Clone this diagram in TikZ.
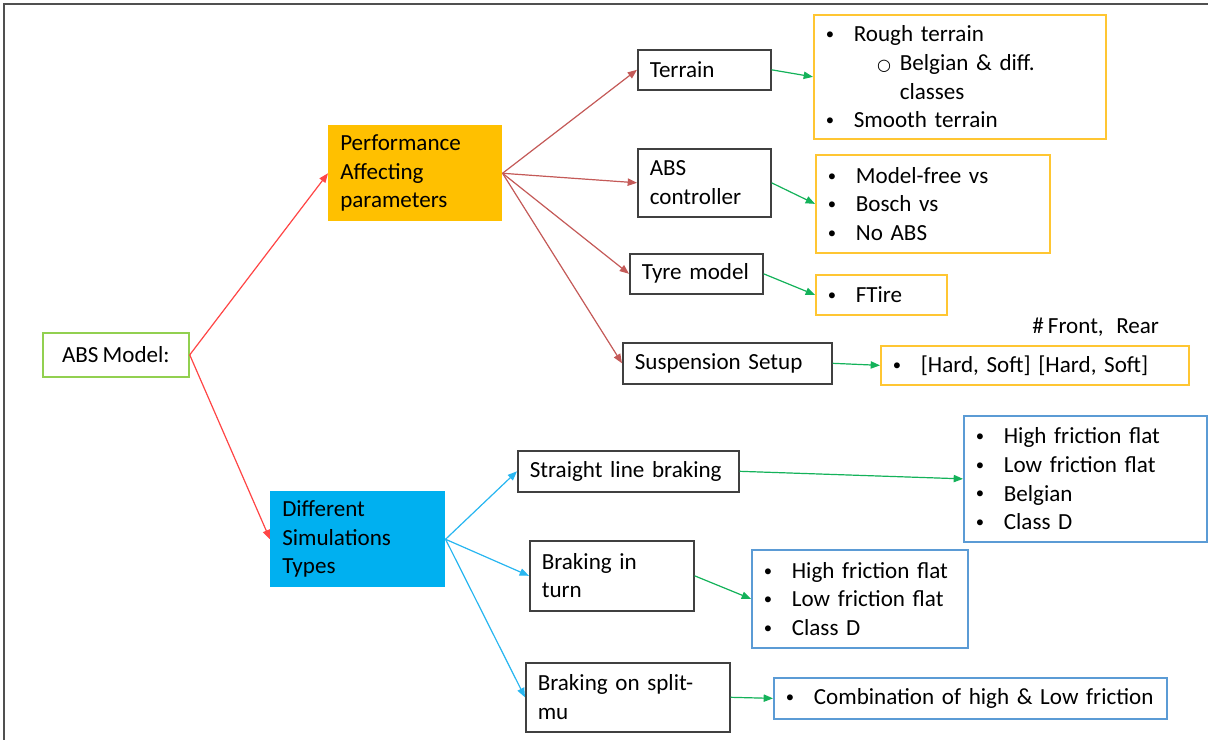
\documentclass[tikz,border=0pt]{standalone}
\usepackage{fontspec}
\setmainfont{Carlito}[WordSpace=0.8]
\newfontfamily\symfont{DejaVu Sans}
\usetikzlibrary{arrows.meta}

\definecolor{boxline}{RGB}{64,64,64}
\definecolor{ylw}{RGB}{255,198,50}
\definecolor{blu}{RGB}{91,155,213}
\definecolor{grn}{RGB}{146,208,80}
\definecolor{orng}{RGB}{255,192,0}
\definecolor{cyn}{RGB}{0,176,240}
\definecolor{redA}{RGB}{255,70,70}
\definecolor{redB}{RGB}{196,90,88}
\definecolor{bluA}{RGB}{40,182,240}
\definecolor{grnA}{RGB}{20,178,90}
\definecolor{framec}{RGB}{80,80,80}

% bullet item, text starts after a fixed indent
\newcommand\bitem[1]{\makebox[22pt][l]{\hspace*{1pt}\raisebox{1.6pt}{\fontsize{12.5}{12.5}\selectfont\textbullet}}#1}
% second-level item marker
\newcommand\subitemmark{\makebox[17pt][l]{\raisebox{0.3pt}{\symfont\fontsize{12}{12}\selectfont ○}}}

\begin{document}
\begin{tikzpicture}[x=0.75pt,y=-0.75pt,
  every node/.style={font=\fontsize{17.3}{21.4}\selectfont, inner ysep=0pt},
  base/.style={anchor=north west, align=left},
  plainbox/.style={base, inner xsep=9pt, draw=boxline, line width=1.2pt},
  fillbox/.style={base, inner xsep=9pt, fill=#1},
  ylist/.style={base, inner xsep=8pt, draw=ylw, line width=1.3pt},
  blist/.style={base, inner xsep=8pt, draw=blu, line width=1.3pt},
  tip/.style={-{Triangle[length=7pt,width=5.5pt]}},
  linkA/.style={tip, line width=0.9pt, draw=redA, fill=redA},
  linkB/.style={tip, line width=0.9pt, draw=redB, fill=redB},
  linkC/.style={tip, line width=0.9pt, draw=bluA, fill=bluA},
  linkD/.style={tip, line width=0.9pt, draw=grnA, fill=grnA},
]
\useasboundingbox (0,0) rectangle (1208,740);

% frame
\draw[line width=1.5pt, framec] (1208,4) -- (4,4) -- (4,740);

% root
\node[anchor=north west, draw=grn, line width=1.3pt, minimum width=109.5pt, minimum height=33pt] (abs) at (42,332) {ABS Model:};

% second level
\node[fillbox=orng, minimum width=130.5pt, minimum height=72pt, text width=112.5pt] (perf) at (328,125) {Performance\\Affecting\\parameters};
\node[fillbox=cyn, minimum width=131.25pt, minimum height=72pt, text width=113.25pt] (diff) at (270,491) {Different\\Simulations\\Types};

% parameters
\node[plainbox, minimum width=99.75pt, minimum height=30pt, text width=81.75pt] (terrain) at (637,49) {Terrain};
\node[plainbox, minimum width=99.75pt, minimum height=51pt, text width=81.75pt] (absc) at (637,148) {ABS\\controller};
\node[plainbox, minimum width=99.75pt, minimum height=30pt, text width=81.75pt] (tyre) at (629,253) {Tyre model};
\node[plainbox, minimum width=156.75pt, minimum height=30.75pt, text width=138.75pt] (susp) at (622,342) {Suspension Setup};

% parameter options
\node[ylist, minimum width=219pt, minimum height=93pt, text width=203pt] (lterrain) at (813,14)
  {\bitem{Rough terrain}\\
   \hspace*{39.5pt}\subitemmark Belgian \& diff.\\
   \hspace*{56.5pt}classes\\
   \bitem{Smooth terrain}};
\node[ylist, minimum width=175.5pt, minimum height=73.5pt, text width=159.5pt] (lctrl) at (815,154)
  {\bitem{Model-free vs}\\ \bitem{Bosch vs}\\ \bitem{No ABS}};
\node[ylist, minimum width=98.25pt, minimum height=30pt, text width=82.25pt] (lftire) at (815,274)
  {\bitem{FTire}};
\node[ylist, minimum width=231pt, minimum height=29.25pt, text width=215pt] (lsusp) at (880,345)
  {\bitem{[Hard, Soft] [Hard, Soft]}};
\node[anchor=west, inner xsep=0pt] (frlabel) at (1032,327) {\# Front,\ \ \ Rear};

% simulation types
\node[plainbox, minimum width=165.75pt, minimum height=30.75pt, text width=147.75pt] (straight) at (517,450) {Straight line braking};
\node[plainbox, minimum width=123pt, minimum height=52.5pt, text width=105pt] (turn) at (529,540) {Braking in\\turn};
\node[plainbox, minimum width=153pt, minimum height=51.75pt, text width=135pt] (split) at (525,662) {Braking on split-\\mu};

% simulation options
\node[blist, minimum width=182.25pt, minimum height=94.5pt, text width=166.25pt] (lstraight) at (963,415)
  {\bitem{High friction flat}\\ \bitem{Low friction flat}\\ \bitem{Belgian}\\ \bitem{Class D}};
\node[blist, minimum width=162pt, minimum height=73.5pt, text width=146pt] (lturn) at (751,549)
  {\bitem{High friction flat}\\ \bitem{Low friction flat}\\ \bitem{Class D}};
\node[blist, minimum width=294.75pt, minimum height=30.75pt, text width=278.75pt] (lsplit) at (773,677)
  {\mbox{\bitem{Combination of high \& Low friction}}};

% connectors
\draw[linkA] (abs.east) -- (perf.west);
\draw[linkA] (abs.east) -- (diff.west);

\draw[linkB] (perf.east) -- (terrain.west);
\draw[linkB] (perf.east) -- (absc.west);
\draw[linkB] (perf.east) -- (tyre.west);
\draw[linkB] (perf.east) -- (susp.west);

\draw[linkC] (diff.east) -- (straight.west);
\draw[linkC] (diff.east) -- (turn.west);
\draw[linkC] (diff.east) -- (split.west);

\draw[linkD] (terrain.east) -- (lterrain.west);
\draw[linkD] (absc.east) -- (lctrl.west);
\draw[linkD] (tyre.east) -- (lftire.west);
\draw[linkD] (susp.east) -- (lsusp.west);
\draw[linkD] (straight.east) -- (lstraight.west);
\draw[linkD] (turn.east) -- (lturn.west);
\draw[linkD] (split.east) -- (lsplit.west);
\end{tikzpicture}
\end{document}
